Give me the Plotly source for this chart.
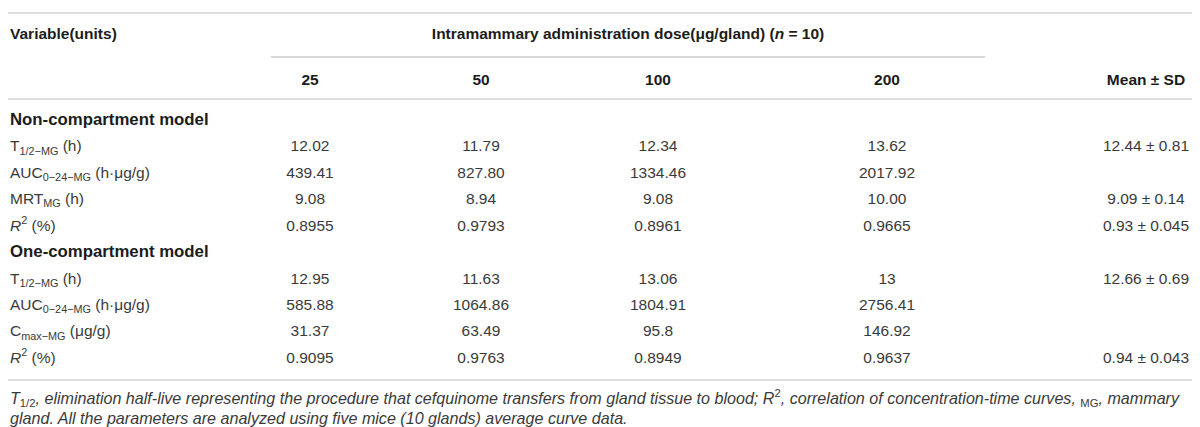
import plotly.graph_objects as go

# ---------------- data ----------------
title_left = "Variable(units)"
title_span = "Intramammary administration dose(μg/gland) (<i>n</i> = 10)"
dose_labels = ["25", "50", "100", "200"]
mean_label = "Mean ± SD"

section_names = ["Non-compartment model", "One-compartment model"]

non_comp_labels = ["T<sub>1/2−MG</sub> (h)", "AUC<sub>0−24−MG</sub> (h·μg/g)",
                   "MRT<sub>MG</sub> (h)", "<i>R</i><sup>2</sup> (%)"]
non_comp_values = [["12.02", "11.79", "12.34", "13.62"],
                   ["439.41", "827.80", "1334.46", "2017.92"],
                   ["9.08", "8.94", "9.08", "10.00"],
                   ["0.8955", "0.9793", "0.8961", "0.9665"]]
non_comp_mean = ["12.44 ± 0.81", "", "9.09 ± 0.14", "0.93 ± 0.045"]

one_comp_labels = ["T<sub>1/2−MG</sub> (h)", "AUC<sub>0−24−MG</sub> (h·μg/g)",
                   "C<sub>max−MG</sub> (μg/g)", "<i>R</i><sup>2</sup> (%)"]
one_comp_values = [["12.95", "11.63", "13.06", "13"],
                   ["585.88", "1064.86", "1804.91", "2756.41"],
                   ["31.37", "63.49", "95.8", "146.92"],
                   ["0.9095", "0.9763", "0.8949", "0.9637"]]
one_comp_mean = ["12.66 ± 0.69", "", "", "0.94 ± 0.043"]

footnote_lines = [
    "<i>T</i><sub>1/2</sub><i>, elimination half-live representing the procedure that cefquinome "
    "transfers from gland tissue to blood; R</i><sup>2</sup><i>, correlation of concentration-time "
    "curves, </i><sub>MG</sub><i>, mammary</i>",
    "<i>gland. All the parameters are analyzed using five mice (10 glands) average curve data.</i>",
]

# ---------------- layout parameters ----------------
W, H = 1200, 427
FONT = "Liberation Sans"
TXT = "#3a3a3a"
HEAD = "#1c1c1c"
RULE = "#dedede"

label_x = 2
col_x = [302, 473, 650, 879]
mean_x = 1138
y_top_rule = 5
y_title = 27
y_span_rule = 49
y_head = 73
y_head_rule = 91
row0 = 113
row_step = 26.45
span_x0, span_x1 = 263, 977

fig = go.Figure()

def add_text(xs, ys, texts, pos, size=15.5, color=TXT, bold=False):
    fig.add_trace(go.Scatter(
        x=xs, y=ys, text=texts, mode="text", textposition=pos,
        textfont=dict(family=FONT, size=size, color=color,
                      weight="bold" if bold else "normal"),
        hoverinfo="skip", showlegend=False, cliponaxis=False))

# header
add_text([label_x], [y_title], [title_left], "middle right", size=15.5, color=HEAD, bold=True)
add_text([(span_x0 + span_x1) / 2], [y_title], [title_span], "middle center",
         size=15.5, color=HEAD, bold=True)
add_text(col_x, [y_head] * 4, dose_labels, "middle center", size=15.5, color=HEAD, bold=True)
add_text([mean_x], [y_head], [mean_label], "middle center", size=15.5, color=HEAD, bold=True)

# body
blocks = [(section_names[0], non_comp_labels, non_comp_values, non_comp_mean),
          (section_names[1], one_comp_labels, one_comp_values, one_comp_mean)]
r = 0
for name, labels, values, means in blocks:
    y = row0 + r * row_step
    add_text([label_x], [y], [name], "middle right", size=16.8, color=HEAD, bold=True)
    r += 1
    for lab, vals, m in zip(labels, values, means):
        y = row0 + r * row_step
        add_text([label_x], [y], [lab], "middle right")
        add_text(col_x, [y] * len(vals), vals, "middle center")
        if m:
            add_text([mean_x], [y], [m], "middle center")
        r += 1

y_bottom_rule = 372
y_foot0 = 392
for i, line in enumerate(footnote_lines):
    add_text([label_x], [y_foot0 + i * 19.5], [line], "middle right", size=16.1, color=TXT)

# rules
shapes = [
    dict(type="line", x0=0, x1=1193, y0=y_top_rule, y1=y_top_rule,
         line=dict(color=RULE, width=2)),
    dict(type="line", x0=span_x0, x1=span_x1, y0=y_span_rule, y1=y_span_rule,
         line=dict(color="#b4b4b4", width=1.2)),
    dict(type="line", x0=0, x1=1193, y0=y_head_rule, y1=y_head_rule,
         line=dict(color=RULE, width=2)),
    dict(type="line", x0=0, x1=1193, y0=y_bottom_rule, y1=y_bottom_rule,
         line=dict(color=RULE, width=2)),
]
for s in shapes:
    s.update(xref="x", yref="y", layer="below")

fig.update_layout(
    width=W, height=H, margin=dict(l=0, r=0, t=0, b=0),
    paper_bgcolor="white", plot_bgcolor="white", shapes=shapes,
    xaxis=dict(range=[0, W], visible=False, fixedrange=True),
    yaxis=dict(range=[H, 0], visible=False, fixedrange=True),
)
fig.write_html("out.html")
